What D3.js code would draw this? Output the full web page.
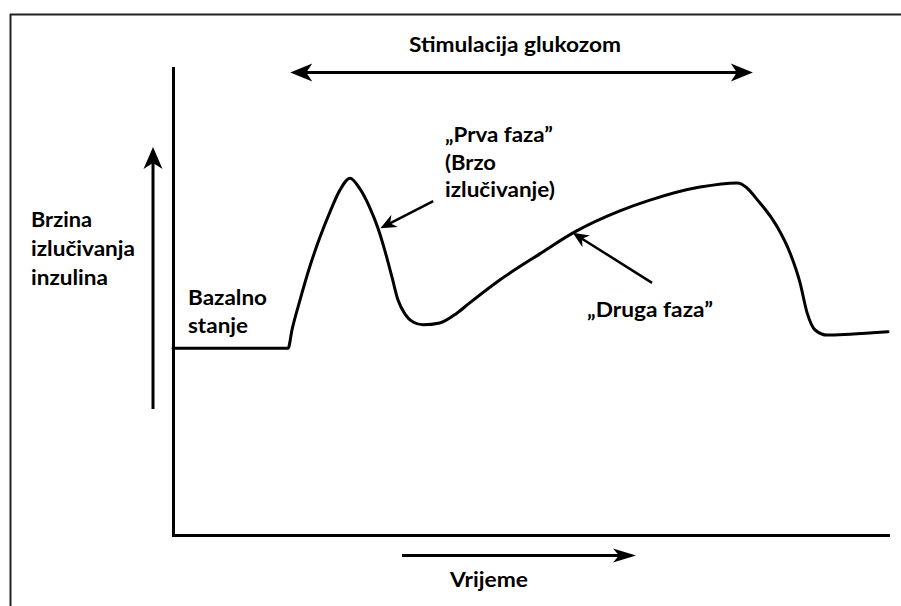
<!DOCTYPE html>
<html>
<head>
<meta charset="utf-8">
<script src="https://cdn.jsdelivr.net/npm/d3@7"></script>
<style>
  html, body { margin: 0; padding: 0; background: #fff; }
  svg { display: block; }
  text { font-family: Lato, "Open Sans", sans-serif; font-weight: 700; fill: #000; }
</style>
</head>
<body>
<script>
// ---- Data (arbitrary units: time 0..100, secretion rate 0..100) ----
const time = [0, 16.1, 16.64, 17.76, 19.16, 20.56, 21.96, 23.36, 24.76, 26.15, 27.55, 28.67, 29.65, 30.63, 31.47, 32.45, 33.57, 34.97, 37.3, 39.7, 41.5, 45.7, 51.3, 56.2, 62.5, 66.7, 73.7, 78.9, 82.1, 84.5, 86.3, 87.7, 88.7, 89.8, 91.5, 94.7, 100];
const rate = [40.0, 40.0, 43.9, 50.3, 57.6, 63.8, 69.2, 73.9, 76.4, 74.1, 70.0, 65.7, 60.8, 55.2, 50.3, 47.3, 45.6, 45.0, 45.4, 47.5, 49.7, 54.6, 60.2, 64.9, 69.4, 71.7, 74.5, 75.4, 71.1, 66.0, 60.4, 54.0, 47.5, 43.9, 42.8, 43.0, 43.5];

const stimulusPeriod = [16.4, 81.1];              // glucose stimulation start/end (time units)
const titleLabel = "Stimulacija glukozom";
const yLabel = ["Brzina", "izlučivanja", "inzulina"];
const xLabel = "Vrijeme";
const basalLabel = ["Bazalno", "stanje"];
const firstPhaseLabel = ["„Prva faza”", "(Brzo", "izlučivanje)"];
const secondPhaseLabel = "„Druga faza”";
// annotation arrows: [tailTime, tailRate, tipTime, tipRate]
const firstPhaseArrow = [36.4, 71.5, 29.0, 65.7];
const secondPhaseArrow = [67.0, 54.0, 55.9, 64.7];

const W = 901, H = 606;
const svg = d3.select("body").append("svg").attr("width", W).attr("height", H);

const x = d3.scaleLinear().domain([0, 100]).range([173, 888]);
const y = d3.scaleLinear().domain([0, 100]).range([535, 68]);

// frame (top and left edges)
svg.append("line").attr("x1", 10).attr("y1", 14.5).attr("x2", W).attr("y2", 14.5)
  .attr("stroke", "#222").attr("stroke-width", 2);
svg.append("line").attr("x1", 10.5).attr("y1", 14).attr("x2", 10.5).attr("y2", H)
  .attr("stroke", "#222").attr("stroke-width", 2);

// axes (no ticks)
const xAxis = svg.append("g").attr("transform", `translate(0,${y(0)})`)
  .call(d3.axisBottom(x).ticks(0).tickSizeOuter(0));
const yAxis = svg.append("g").attr("transform", `translate(${x(0)},0)`)
  .call(d3.axisLeft(y).ticks(0).tickSizeOuter(0));
[xAxis, yAxis].forEach(g => g.select(".domain").attr("stroke", "#000").attr("stroke-width", 3).attr("stroke-linecap", "square"));

// curve
const line = d3.line().x((d, i) => x(time[i])).y((d, i) => y(rate[i])).curve(d3.curveMonotoneX);
svg.append("path").datum(time).attr("d", line)
  .attr("fill", "none").attr("stroke", "#000").attr("stroke-width", 3)
  .attr("stroke-linejoin", "round").attr("stroke-linecap", "round");

// arrow helper: line from (x1,y1) to tip (x2,y2) with a filled head
function arrow(x1, y1, x2, y2, len, half, notch, width) {
  const dx = x2 - x1, dy = y2 - y1, L = Math.hypot(dx, dy);
  const ux = dx / L, uy = dy / L, px = -uy, py = ux;
  svg.append("line").attr("x1", x1).attr("y1", y1)
    .attr("x2", x2 - ux * (len * 0.6)).attr("y2", y2 - uy * (len * 0.6))
    .attr("stroke", "#000").attr("stroke-width", width);
  const bx = x2 - ux * len, by = y2 - uy * len;
  const nx = x2 - ux * notch, ny = y2 - uy * notch;
  svg.append("path")
    .attr("d", `M${x2},${y2} L${bx + px * half},${by + py * half} L${nx},${ny} L${bx - px * half},${by - py * half} Z`)
    .attr("fill", "#000");
}

// stimulation double arrow
const sy = 72.5;
arrow(x(stimulusPeriod[0]) + 10, sy, x(stimulusPeriod[0]), sy, 22, 9, 16, 3);
arrow(x(stimulusPeriod[0]) + 10, sy, x(stimulusPeriod[1]), sy, 22, 9, 16, 3);
// y label arrow
arrow(153, 409, 153, 147, 22, 9.5, 16, 3);
// time arrow
arrow(402, 555.5, 636, 555.5, 23, 7, 17, 3);
// phase arrows
arrow(x(firstPhaseArrow[0]), y(firstPhaseArrow[1]), x(firstPhaseArrow[2]), y(firstPhaseArrow[3]), 16, 7, 11, 2.5);
arrow(x(secondPhaseArrow[0]), y(secondPhaseArrow[1]), x(secondPhaseArrow[2]), y(secondPhaseArrow[3]), 16, 7, 11, 2.5);

// text helper
function label(str, tx, ty, width, size) {
  svg.append("text").attr("x", tx).attr("y", ty).attr("font-size", size)
    .attr("textLength", width).attr("lengthAdjust", "spacingAndGlyphs").text(str);
}
const fs = 21;
label(titleLabel, 409, 52, 212, fs);
const yW = [61, 104, 77];
yLabel.forEach((s, i) => label(s, 31, 227 + i * 29, yW[i], fs));
const bW = [79, 60];
basalLabel.forEach((s, i) => label(s, 188, 305 + i * 28, bW[i], fs));
const fW = [108, 51, 110];
firstPhaseLabel.forEach((s, i) => label(s, 445, 142 + i * 27.5, fW[i], fs));
label(secondPhaseLabel, 587, 317, 126, fs);
label(xLabel, 450, 587, 78, fs);
</script>
</body>
</html>
